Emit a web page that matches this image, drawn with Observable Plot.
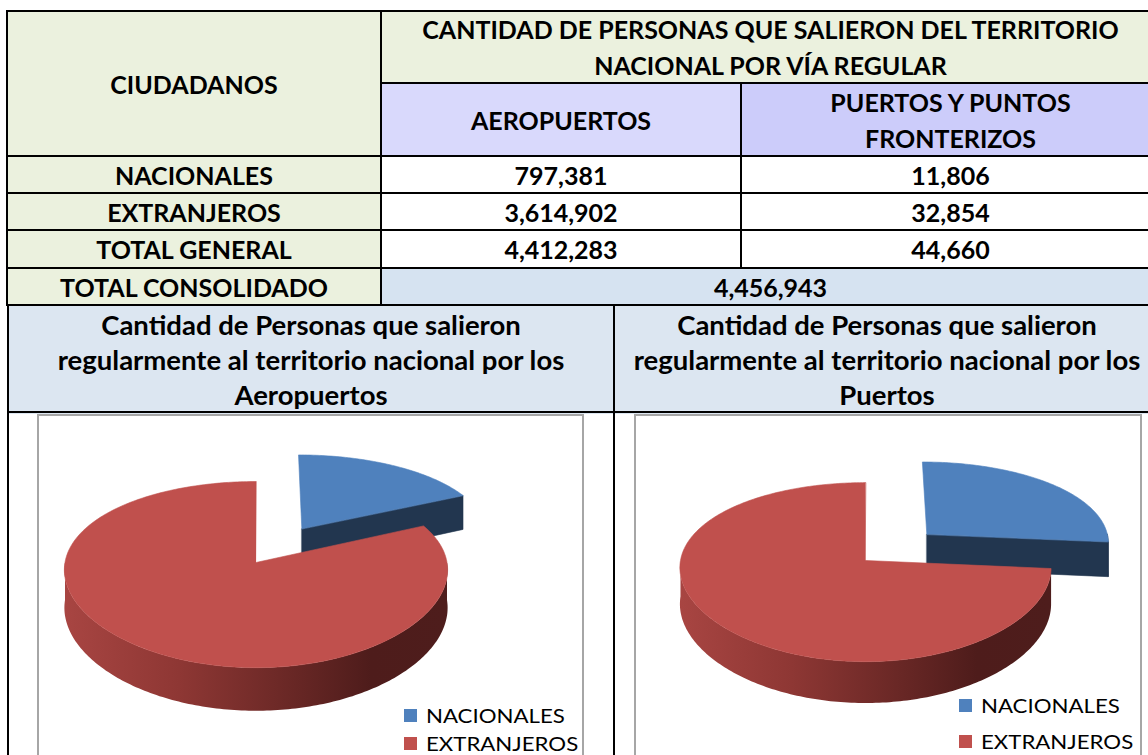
<!DOCTYPE html>
<html><head><meta charset="utf-8">
<script src="https://cdn.jsdelivr.net/npm/d3@7"></script>
<script src="https://cdn.jsdelivr.net/npm/@observablehq/plot@0.6"></script>
<style>
html,body{margin:0;padding:0;background:#fff;}
body{width:1148px;height:755px;overflow:hidden;position:relative;font-family:Lato,"Open Sans",sans-serif;}
.c{position:absolute;box-sizing:border-box;display:flex;align-items:center;justify-content:center;text-align:center;font-weight:700;font-size:25px;color:#000;line-height:36px;white-space:nowrap;}
.ln{position:absolute;background:#000;}
.frame{position:absolute;box-sizing:border-box;border:2px solid #A6A6A6;background:#fff;}
.lg{position:absolute;font-size:19px;font-weight:400;color:#000;white-space:nowrap;line-height:20px;transform-origin:0 50%;transform:scaleX(1.17);}
.sw{position:absolute;width:13px;height:13px;}
svg.pie{position:absolute;}
</style></head><body>
<script>
// ---- data ----
const categories = ["NACIONALES", "EXTRANJEROS"];
const aeropuertos = [797381, 3614902];
const puertos = [11806, 32854];
const rowLabels = ["NACIONALES", "EXTRANJEROS", "TOTAL GENERAL"];
const consolidadoLabel = "TOTAL CONSOLIDADO";
const mainHeader = ["CANTIDAD DE PERSONAS QUE SALIERON DEL TERRITORIO", "NACIONAL POR VÍA REGULAR"];
const colHeaders = [["AEROPUERTOS"], ["PUERTOS Y PUNTOS", "FRONTERIZOS"]];
const leftHeader = "CIUDADANOS";
const chartTitles = [
  ["Cantidad de Personas que salieron", "regularmente al territorio nacional por los", "Aeropuertos"],
  ["Cantidad de Personas que salieron", "regularmente al territorio nacional por los", "Puertos"]
];
const topColors = ["#4F81BD", "#C0504D"];
const sideColors = ["#22364F", "url(#GRAD)"];

const fmt = d3.format(",");
const totals = [d3.sum(aeropuertos), d3.sum(puertos)];
const consolidado = d3.sum(totals);

// ---- table layout ----
const body = document.body;
function cell(x0, y0, x1, y1, bg, lines, lh, fs) {
  const d = document.createElement("div");
  d.className = "c";
  Object.assign(d.style, {left: x0 + "px", top: y0 + "px", width: (x1 - x0) + "px", height: (y1 - y0) + "px", background: bg});
  if (lh) d.style.lineHeight = lh + "px";
  if (fs) d.style.fontSize = fs + "px";
  d.innerHTML = "<div>" + lines.join("<br>") + "</div>";
  body.appendChild(d);
}
function hline(x0, x1, y) { const d = document.createElement("div"); d.className = "ln"; Object.assign(d.style, {left: (x0 - 1) + "px", top: (y - 1) + "px", width: (x1 - x0 + 2) + "px", height: "2px"}); body.appendChild(d); }
function vline(x, y0, y1) { const d = document.createElement("div"); d.className = "ln"; Object.assign(d.style, {left: (x - 1) + "px", top: (y0 - 1) + "px", width: "2px", height: (y1 - y0 + 2) + "px"}); body.appendChild(d); }

const GREEN = "#EBF1DE", LAV1 = "#D9D9FC", LAV2 = "#CCCCFA", BLUE1 = "#D6E3F1", BLUE2 = "#DCE6F1";
const X0 = 7, XA = 381, XB = 741, XR = 1160;
const rowY = [156, 193, 230, 268, 305];

cell(X0, 11, XA, 156, GREEN, [leftHeader]);
cell(XA, 11, XR, 83, GREEN, mainHeader);
cell(XA, 83, XB, 156, LAV1, colHeaders[0]);
cell(XB, 83, XR, 156, LAV2, colHeaders[1]);
rowLabels.forEach((lab, i) => {
  const vals = i < 2 ? [aeropuertos[i], puertos[i]] : totals;
  cell(X0, rowY[i], XA, rowY[i + 1], GREEN, [lab]);
  cell(XA, rowY[i], XB, rowY[i + 1], "#fff", [fmt(vals[0])]);
  cell(XB, rowY[i], XR, rowY[i + 1], "#fff", [fmt(vals[1])]);
});
cell(X0, 268, XA, 305, GREEN, [consolidadoLabel]);
cell(XA, 268, XR, 305, BLUE1, [fmt(consolidado)]);
cell(8, 305, 614, 414, BLUE2, chartTitles[0], 35, 27.5);
cell(614, 305, XR, 414, BLUE2, chartTitles[1], 35, 27.5);

// frames
const frames = [{x: 37, y: 414, w: 547}, {x: 634, y: 414, w: 508}];
frames.forEach(f => { const d = document.createElement("div"); d.className = "frame"; Object.assign(d.style, {left: f.x + "px", top: f.y + "px", width: f.w + "px", height: "400px"}); body.appendChild(d); });

// grid lines
hline(X0, XR, 11); hline(XA, XR, 83);
rowY.forEach(y => hline(X0, XR, y));
hline(8, XR, 412);
vline(X0, 11, 305); vline(XA, 11, 305); vline(XB, 83, 268);
vline(8, 305, 760); vline(614, 305, 760);

// ---- pies ----
function drawPie(values, cfg, gid) {
  const total = d3.sum(values);
  let acc = 0;
  const slices = values.map((v, i) => {
    const a0 = acc / total * 2 * Math.PI; acc += v;
    const a1 = acc / total * 2 * Math.PI;
    const mid = (a0 + a1) / 2;
    const e = i === 0 ? cfg.explode : 0;
    return {i, a0, a1, mid, ox: e * Math.sin(mid), od: e * Math.cos(mid)};
  });
  const P = (X, D, z) => {
    const sx = 1 / (1 + cfg.qx * D), sy = 1 / (1 + cfg.qy * D);
    return [cfg.cx + cfg.rx * X * sx, cfg.cy - cfg.ry * D * sy + z * cfg.h * sy];
  };
  const rim = (s, a, z) => P(s.ox + Math.sin(a), s.od + Math.cos(a), z);
  const arc = (s, lo, hi, z) => {
    const n = Math.max(2, Math.ceil(Math.abs(hi - lo) / (Math.PI / 180)));
    return d3.range(n + 1).map(k => rim(s, lo + (hi - lo) * k / n, z));
  };
  const apex = (s, z) => P(s.ox, s.od, z);
  const polys = [];
  const order = slices.slice().sort((a, b) => Math.cos(b.mid) - Math.cos(a.mid));
  for (const s of order) {
    const side = sideColors[s.i].replace("GRAD", gid);
    if (Math.sin(s.a0) < -1e-6) polys.push({pts: [apex(s, 0), rim(s, s.a0, 0), rim(s, s.a0, 1), apex(s, 1)], fill: side});
    if (Math.sin(s.a1) > 1e-6) polys.push({pts: [apex(s, 0), rim(s, s.a1, 0), rim(s, s.a1, 1), apex(s, 1)], fill: side});
    const lo = Math.max(s.a0, Math.PI / 2), hi = Math.min(s.a1, 3 * Math.PI / 2);
    if (hi > lo) polys.push({pts: [...arc(s, lo, hi, 0), ...arc(s, hi, lo, 1)], fill: side});
    polys.push({pts: [apex(s, 0), ...arc(s, s.a0, s.a1, 0)], fill: topColors[s.i]});
  }
  const svg = Plot.plot({
    width: cfg.w, height: cfg.hgt, margin: 0,
    style: {background: "transparent"},
    x: {type: "identity", axis: null}, y: {type: "identity", axis: null},
    marks: polys.map(p => Plot.line(p.pts, {x: d => d[0], y: d => d[1], fill: p.fill, stroke: p.fill.startsWith("url") ? "none" : p.fill, strokeWidth: 0.6, curve: "linear-closed"}))
  });
  const defs = d3.select(svg).insert("defs", ":first-child");
  const g = defs.append("linearGradient").attr("id", gid).attr("x1", 0).attr("x2", 1).attr("y1", 0).attr("y2", 0);
  [[0, "#A84542"], [0.3, "#8E3734"], [0.6, "#682725"], [0.8, "#4E1C1B"], [1, "#4E1D1C"]].forEach(([o, c]) => g.append("stop").attr("offset", o).attr("stop-color", c));
  svg.classList.add("pie");
  svg.style.left = cfg.fx + "px"; svg.style.top = cfg.fy + "px";
  body.appendChild(svg);
}

drawPie(aeropuertos, {fx: 37, fy: 414, w: 547, hgt: 341, cx: 218.5, cy: 148, rx: 191, ry: 91.5, h: 37.5, qx: 0.08, qy: 0.13, explode: 0.46}, "gradA");
drawPie(puertos, {fx: 634, fy: 414, w: 508, hgt: 341, cx: 231, cy: 146, rx: 185, ry: 88, h: 36, qx: 0.08, qy: 0.13, explode: 0.46}, "gradB");

// ---- legends ----
const legends = [{sx: 404, tx: 426, ys: [709, 737]}, {sx: 959, tx: 981, ys: [699, 735]}];
legends.forEach(L => {
  categories.forEach((cat, i) => {
    const sw = document.createElement("div"); sw.className = "sw";
    Object.assign(sw.style, {left: L.sx + "px", top: L.ys[i] + "px", background: topColors[i]});
    body.appendChild(sw);
    const t = document.createElement("div"); t.className = "lg"; t.textContent = cat;
    Object.assign(t.style, {left: L.tx + "px", top: (L.ys[i] - 3) + "px"});
    body.appendChild(t);
  });
});
</script>
</body></html>
